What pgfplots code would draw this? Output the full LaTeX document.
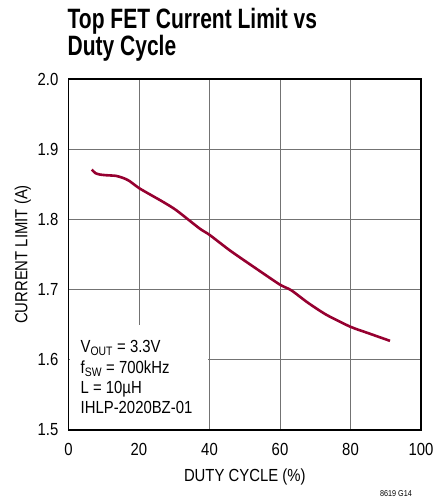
\documentclass[border=0pt]{standalone}
\usepackage{fontspec}
\setmainfont{Liberation Sans}[FakeStretch=0.85]
\newfontfamily\titlefont{Liberation Sans}[FakeStretch=0.75]
\usepackage{pgfplots}
\pgfplotsset{compat=1.18}
\definecolor{curvered}{RGB}{150,0,48}
\definecolor{gridgray}{RGB}{115,115,115}

\begin{document}
\begin{tikzpicture}
    % fixed canvas, 1pt = 1px of the reference
    \path[use as bounding box] (-68.5pt,-72pt) rectangle (365.5pt,430pt);
    \begin{axis}[
        at={(0pt,0pt)}, anchor=south west,
        scale only axis,
        width=352.5pt, height=351pt,
        xmin=0, xmax=100,
        ymin=1.5, ymax=2.0,
        xtick={0,20,...,100},
        ytick={1.5,1.6,...,2.0},
        grid=major,
        major grid style={gridgray, line width=1pt},
        axis line style={black, line width=1.4pt},
        tick style={draw=none},
        /pgf/number format/assume math mode=true,
        yticklabel style={/pgf/number format/.cd, fixed, fixed zerofill, precision=1, /tikz/.cd,
            anchor=east, inner sep=0pt, xshift=-10pt},
        xticklabel style={anchor=base, inner sep=0pt, yshift=-25pt},
        ticklabel style={font=\fontsize{17.5}{20}\selectfont},
        label style={font=\fontsize{17.5}{20}\selectfont},
        xlabel={DUTY CYCLE (\%)},
        xlabel style={at={(axis description cs:0.5,0)}, anchor=base, inner sep=0pt, yshift=-51pt},
        ylabel={CURRENT LIMIT (A)},
        ylabel style={at={(axis description cs:0,0.5)}, anchor=base, inner sep=0pt, yshift=41pt},
    ]
        \addplot[curvered, line width=2.6pt, smooth, tension=0.4] coordinates {
            (6.6,1.871) (7.6,1.866) (8.8,1.864) (10.5,1.863) (13.5,1.862)
            (15.5,1.859) (17.2,1.855) (20.2,1.844) (26.8,1.825) (30.6,1.813)
            (37.2,1.787) (40,1.778) (46,1.755) (53.8,1.728) (60,1.707)
            (63.2,1.699) (68,1.681) (73.2,1.664) (80,1.647) (85,1.638)
            (91.2,1.627)
        };
        % white patch behind the conditions text
        \fill[white] (axis cs:0.4,1.5015) rectangle (axis cs:39.5,1.65);
    \end{axis}
    % conditions
    \begin{scope}[every node/.style={anchor=base west, inner sep=0pt,
            font=\fontsize{17.5}{20}\selectfont}]
        \node at (12pt,77pt) {V\textsubscript{OUT} = 3.3V};
        \node at (12pt,56pt) {f\textsubscript{SW} = 700kHz};
        \node at (12pt,36pt) {L = 10\textmu H};
        \node at (12pt,16pt) {IHLP-2020BZ-01};
    \end{scope}
    % title
    \node[anchor=base west, inner sep=0pt, font=\titlefont\bfseries\fontsize{28}{28}\selectfont]
        at (-1pt,401pt) {Top FET Current Limit vs};
    \node[anchor=base west, inner sep=0pt, font=\titlefont\bfseries\fontsize{28}{28}\selectfont]
        at (-1pt,374pt) {Duty Cycle};
    % figure code
    \node[anchor=base east, inner sep=0pt, font=\fontsize{8.5}{10}\selectfont]
        at (343.5pt,-66pt) {8619 G14};
\end{tikzpicture}
\end{document}
